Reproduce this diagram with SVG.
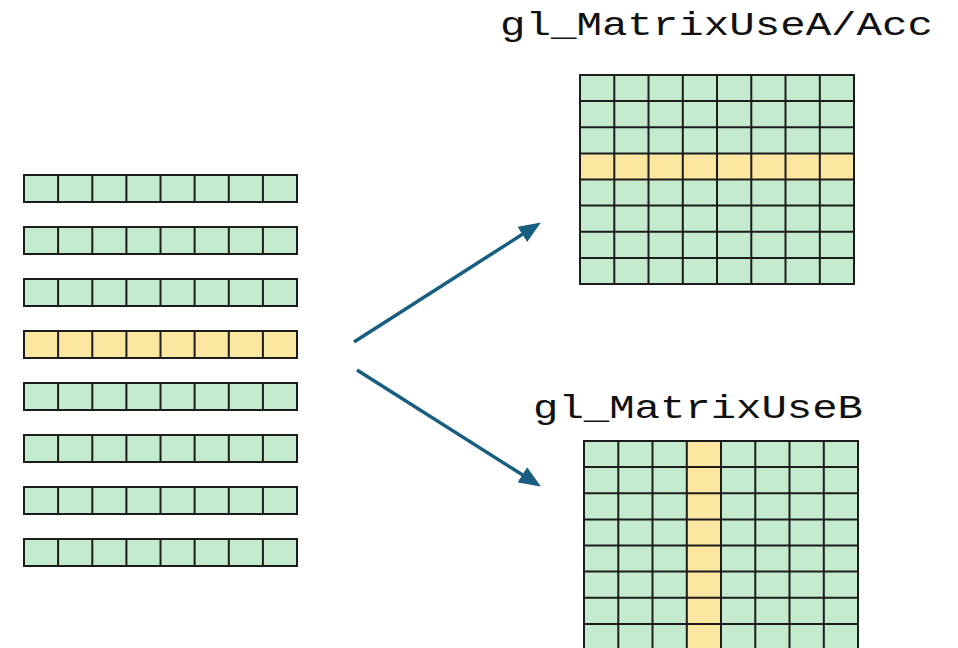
<svg xmlns="http://www.w3.org/2000/svg" width="958" height="648" viewBox="0 0 958 648">
<defs>
<style>
.g{fill:#c5ebcf}
.y{fill:#fce7a0}
.ln{fill:none;stroke:#1c1c1c;stroke-width:2}
.lbl{font-family:"Liberation Mono","DejaVu Sans Mono",monospace;font-size:34px;fill:#111}
.arr{stroke:#175e80;stroke-width:3.5;fill:none}
</style>
<marker id="ah" viewBox="0 0 22 18" markerWidth="22" markerHeight="18" markerUnits="userSpaceOnUse" refX="9" refY="9" orient="auto">
<path d="M0,0 L22,9 L0,18 Z" fill="#175e80"/>
</marker>
</defs>
<rect width="958" height="648" fill="#ffffff"/>

<g id="strips">
<g id="strip1"><rect class="g" x="24" y="175" width="273" height="27"/><path class="ln" d="M24,175h273v27h-273z M58.1,175v27 M92.3,175v27 M126.4,175v27 M160.5,175v27 M194.6,175v27 M228.8,175v27 M262.9,175v27"/></g>
<g id="strip2"><rect class="g" x="24" y="227" width="273" height="27"/><path class="ln" d="M24,227h273v27h-273z M58.1,227v27 M92.3,227v27 M126.4,227v27 M160.5,227v27 M194.6,227v27 M228.8,227v27 M262.9,227v27"/></g>
<g id="strip3"><rect class="g" x="24" y="279" width="273" height="27"/><path class="ln" d="M24,279h273v27h-273z M58.1,279v27 M92.3,279v27 M126.4,279v27 M160.5,279v27 M194.6,279v27 M228.8,279v27 M262.9,279v27"/></g>
<g id="strip4"><rect class="y" x="24" y="331" width="273" height="27"/><path class="ln" d="M24,331h273v27h-273z M58.1,331v27 M92.3,331v27 M126.4,331v27 M160.5,331v27 M194.6,331v27 M228.8,331v27 M262.9,331v27"/></g>
<g id="strip5"><rect class="g" x="24" y="383" width="273" height="27"/><path class="ln" d="M24,383h273v27h-273z M58.1,383v27 M92.3,383v27 M126.4,383v27 M160.5,383v27 M194.6,383v27 M228.8,383v27 M262.9,383v27"/></g>
<g id="strip6"><rect class="g" x="24" y="435" width="273" height="27"/><path class="ln" d="M24,435h273v27h-273z M58.1,435v27 M92.3,435v27 M126.4,435v27 M160.5,435v27 M194.6,435v27 M228.8,435v27 M262.9,435v27"/></g>
<g id="strip7"><rect class="g" x="24" y="487" width="273" height="27"/><path class="ln" d="M24,487h273v27h-273z M58.1,487v27 M92.3,487v27 M126.4,487v27 M160.5,487v27 M194.6,487v27 M228.8,487v27 M262.9,487v27"/></g>
<g id="strip8"><rect class="g" x="24" y="539" width="273" height="27"/><path class="ln" d="M24,539h273v27h-273z M58.1,539v27 M92.3,539v27 M126.4,539v27 M160.5,539v27 M194.6,539v27 M228.8,539v27 M262.9,539v27"/></g>
</g>

<g id="matrixA">
<text class="lbl" x="500" y="35" textLength="433" lengthAdjust="spacingAndGlyphs">gl_MatrixUseA/Acc</text>
<rect class="g" x="580" y="75" width="274" height="209"/>
<rect class="y" x="580" y="154.4" width="274" height="26.1"/>
<path class="ln" d="M580,75h274v209h-274z M614.3,75v209 M648.5,75v209 M682.8,75v209 M717,75v209 M751.3,75v209 M785.5,75v209 M819.8,75v209 M580,101.1h274 M580,127.3h274 M580,153.4h274 M580,179.5h274 M580,205.6h274 M580,231.8h274 M580,257.9h274"/>
</g>

<g id="matrixB">
<text class="lbl" x="533" y="418" textLength="330" lengthAdjust="spacingAndGlyphs">gl_MatrixUseB</text>
<rect class="g" x="584" y="441" width="274" height="209"/>
<rect class="y" x="686.8" y="441" width="34.2" height="209"/>
<path class="ln" d="M584,441h274v209h-274z M618.3,441v209 M652.5,441v209 M686.8,441v209 M721,441v209 M755.3,441v209 M789.5,441v209 M823.8,441v209 M584,467.1h274 M584,493.3h274 M584,519.4h274 M584,545.5h274 M584,571.6h274 M584,597.8h274 M584,623.9h274"/>
</g>

<g id="connectors">
<line class="arr" x1="354" y1="342" x2="529.9" y2="229.5" marker-end="url(#ah)"/>
<line class="arr" x1="357" y1="370" x2="529.9" y2="479.6" marker-end="url(#ah)"/>
</g>
</svg>
